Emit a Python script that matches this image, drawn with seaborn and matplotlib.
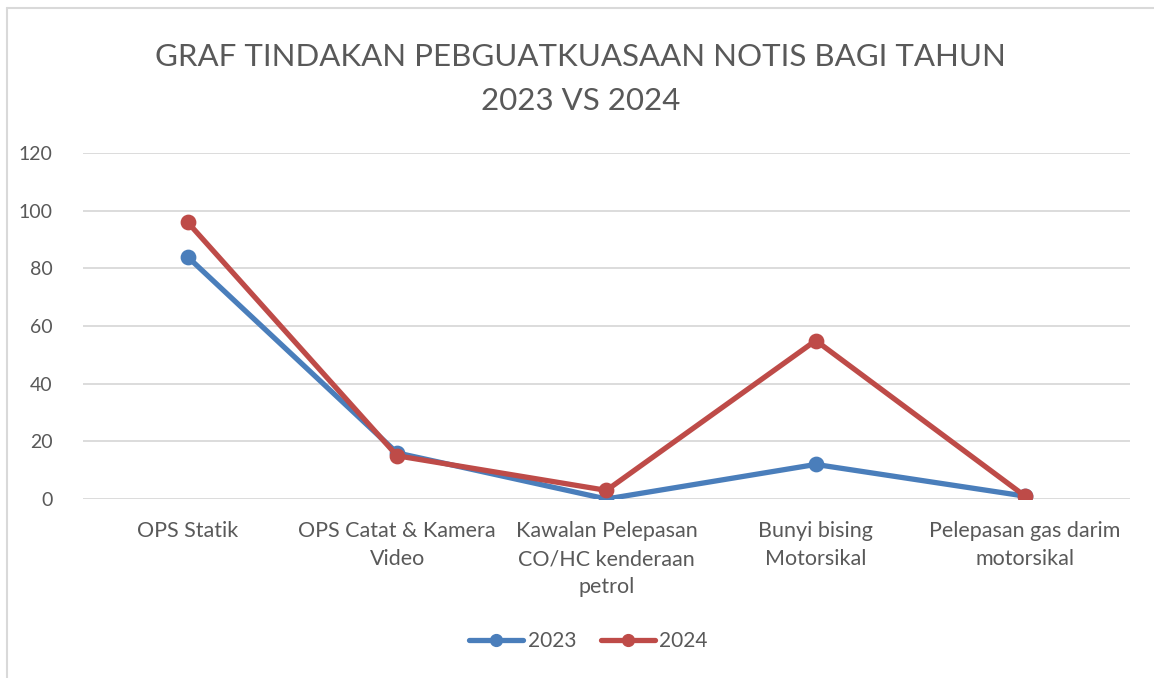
import pandas as pd
import seaborn as sns
import matplotlib.pyplot as plt
from matplotlib.lines import Line2D

# ---- data ----
categories = [
    'OPS Statik',
    'OPS Catat & Kamera\nVideo',
    'Kawalan Pelepasan\nCO/HC kenderaan\npetrol',
    'Bunyi bising\nMotorsikal',
    'Pelepasan gas darim\nmotorsikal',
]
notis_2023 = [84, 16, 0, 12, 1]
notis_2024 = [96, 15, 3, 55, 1]
years = ['2023', '2024']
colors = {'2023': '#4A7EBB', '2024': '#BE4B48'}

df = pd.DataFrame({
    'kategori': categories * 2,
    'notis': notis_2023 + notis_2024,
    'tahun': ['2023'] * len(categories) + ['2024'] * len(categories),
})

sns.set_style('white')
plt.rcParams['font.family'] = ['Lato', 'DejaVu Sans']
text_col = '#595959'

fig = plt.figure(figsize=(11.54, 6.78), dpi=100)
ax = fig.add_axes([0.072, 0.264, 0.907, 0.510])

sns.pointplot(data=df, x='kategori', y='notis', hue='tahun',
              hue_order=years, palette=colors, order=categories,
              markers='o', markersize=8.5, linewidth=3.8,
              errorbar=None, ax=ax, legend=False)

ax.set_ylim(0, 120)
ax.set_yticks(range(0, 121, 20))
ax.set_xlim(-0.5, len(categories) - 0.5)
ax.yaxis.grid(True, color='#D9D9D9', linewidth=1.3)
ax.set_axisbelow(True)
for s in ax.spines.values():
    s.set_visible(False)
ax.set_xlabel('')
ax.set_ylabel('')
ax.tick_params(axis='y', length=0, pad=22, labelsize=14, labelcolor=text_col)
ax.tick_params(axis='x', length=0, pad=16, labelsize=15.5, labelcolor=text_col)
for lbl in ax.get_xticklabels():
    lbl.set_linespacing(1.5)

fig.text(0.503, 1 - 79 / 678, 'GRAF TINDAKAN PEBGUATKUASAAN NOTIS BAGI TAHUN\n2023 VS 2024',
         ha='center', va='center', fontsize=22.5, color=text_col, linespacing=1.7)

handles = [Line2D([0], [0], color=colors[y], lw=3.8, marker='o', markersize=8.5) for y in years]
fig.legend(handles, years, loc='center', bbox_to_anchor=(0.51, 1 - 641 / 678),
           ncol=2, frameon=False, fontsize=15, labelcolor=text_col,
           handlelength=2.6, handletextpad=0.2, columnspacing=1.2)

# chart area border (only left and top visible)
fig.add_artist(Line2D([7 / 1154, 7 / 1154], [0, 1 - 8 / 678], color='#D9D9D9', lw=1.5,
                      transform=fig.transFigure))
fig.add_artist(Line2D([7 / 1154, 1], [1 - 8 / 678, 1 - 8 / 678], color='#D9D9D9', lw=1.5,
                      transform=fig.transFigure))

fig.savefig('out.png', dpi=100)
